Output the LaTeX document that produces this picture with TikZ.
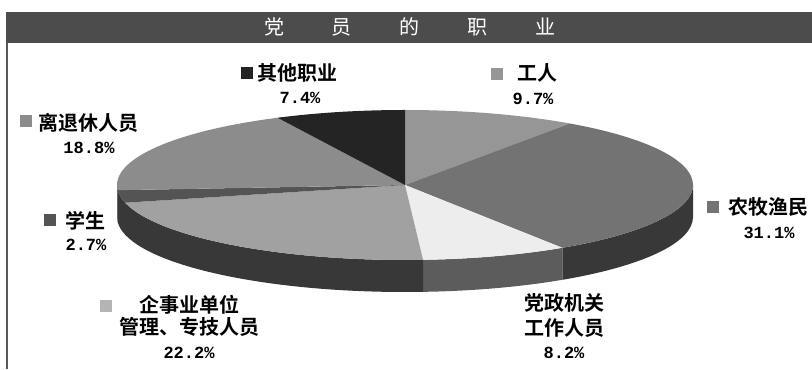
\documentclass[tikz,border=0pt]{standalone}
\usepackage{fontspec}
\newfontfamily\cjk[BoldFont={Noto Sans CJK SC Bold}]{Noto Sans CJK SC}
\newfontfamily\pctfont{Liberation Mono}
\usetikzlibrary{positioning}

\definecolor{titlebar}{gray}{0.30}
\definecolor{frameline}{gray}{0.35}
\definecolor{gongren}{gray}{0.59}
\definecolor{nongmu}{gray}{0.45}
\definecolor{dangzheng}{gray}{0.93}
\definecolor{qishiye}{gray}{0.63}
\definecolor{xuesheng}{gray}{0.33}
\definecolor{lituixiu}{gray}{0.55}
\definecolor{qita}{gray}{0.14}
\definecolor{sidedark}{gray}{0.22}
\definecolor{sidemid}{gray}{0.36}

\tikzset{
  lab/.style={font=\cjk\bfseries\fontsize{10}{11}\selectfont, inner sep=0pt},
  pct/.style={font=\pctfont\bfseries\fontsize{8.5}{10}\selectfont, inner sep=0pt},
  key/.style={minimum size=6pt, inner sep=0pt},
  rim/.style={x radius=288, y radius=75},
}

\begin{document}
\begin{tikzpicture}[x=0.5pt, y=0.5pt]
    \useasboundingbox (0,0) rectangle (812,369);
    % frame and title
    \fill[titlebar] (6,326) rectangle (812,357);
    \draw[frameline, line width=1pt] (7,326) -- (7,0);
    \node[font=\cjk\fontsize{10}{11}\selectfont, text=white] (title) at (410,342)
      {党\hspace{2.4em}员\hspace{2.4em}的\hspace{2.4em}职\hspace{2.4em}业};

    % pie
    \coordinate (c) at (405,184);
    \foreach \a/\b/\col in {0/-56.88/sidedark, -56.88/-86.4/sidemid,
        -86.4/-166.32/sidedark, -166.32/-176.04/sidedark, -176.04/-180/sidedark}
      \fill[\col] (c) ++(\a:288 and 75)
        arc[start angle=\a, end angle=\b, rim]
        -- ++(0,-32)
        arc[start angle=\b, end angle=\a, rim] -- cycle;
    \foreach \a/\b/\col in {90/55.08/gongren, 55.08/-56.88/nongmu,
        -56.88/-86.4/dangzheng, -86.4/-166.32/qishiye, -166.32/-176.04/xuesheng,
        -176.04/-243.72/lituixiu, -243.72/-270/qita}
      \fill[\col] (c) -- ++(\a:288 and 75)
        arc[start angle=\a, end angle=\b, rim] -- cycle;

    % labels
    \node[lab] (other) at (297,296) {其他职业};
    \node[pct] (otherp) at (300,271) {7.4\%};
    \node[key, fill=qita] (otherk) at (247,296) {};

    \node[lab] (worker) at (537,296) {工人};
    \node[pct] (workerp) at (533,270) {9.7\%};
    \node[key, fill=gongren] (workerk) at (497,295) {};

    \node[lab] (retired) at (88,246) {离退休人员};
    \node[pct] (retiredp) at (89,221) {18.8\%};
    \node[key, fill=lituixiu] (retiredk) at (26,248) {};

    \node[lab] (student) at (85,148) {学生};
    \node[pct] (studentp) at (86,124) {2.7\%};
    \node[key, fill=xuesheng] (studentk) at (50,149) {};

    \node[lab] (staff) at (189,64) {企事业单位};
    \node[lab] (staff2) at (189,42) {管理、专技人员};
    \node[pct] (staffp) at (189,16) {22.2\%};
    \node[key, fill=qishiye!80!white] (staffk) at (106,63) {};

    \node[lab] (party) at (564,66) {党政机关};
    \node[lab] (party2) at (564,41) {工作人员};
    \node[pct] (partyp) at (564,16) {8.2\%};

    \node[lab] (farmer) at (768,162) {农牧渔民};
    \node[pct] (farmerp) at (769,136) {31.1\%};
    \node[key, fill=nongmu] (farmerk) at (713,162) {};
\end{tikzpicture}
\end{document}
